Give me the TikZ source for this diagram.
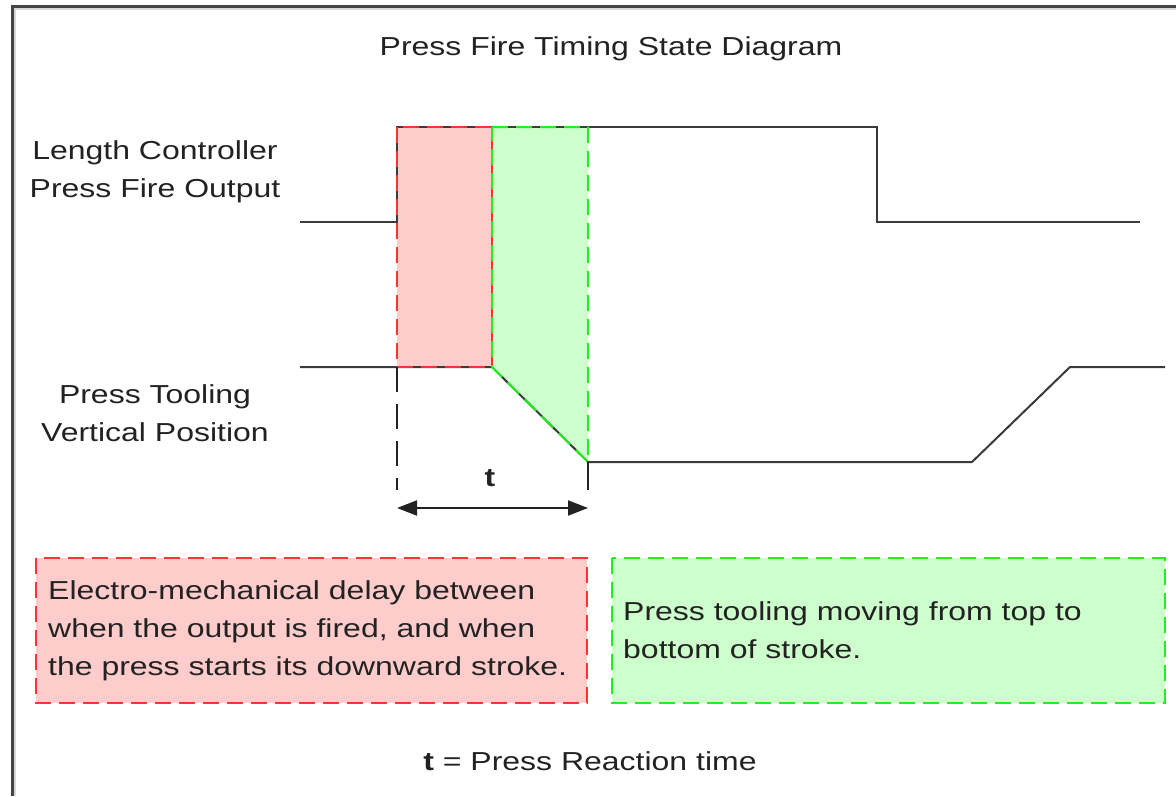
\documentclass[tikz,border=0pt]{standalone}
\usepackage{fontspec}
\setmainfont{Liberation Sans}[FakeStretch=1.23]
\usetikzlibrary{arrows.meta}
\definecolor{ink}{HTML}{222222}
\definecolor{wave}{HTML}{3A3A3A}
\definecolor{delayfill}{HTML}{FFCCCC}
\definecolor{delayline}{HTML}{FF3333}
\definecolor{strokefill}{HTML}{CCFFCC}
\definecolor{strokeline}{HTML}{22EE22}
\definecolor{framedark}{HTML}{444444}
\definecolor{framelight}{HTML}{D8D8D8}
\tikzset{
  txt/.style={font=\fontsize{26}{38}\selectfont, text=ink, inner sep=0pt},
  signal/.style={draw=wave, line width=2pt},
  delayedge/.style={draw=delayline, line width=2pt, dash pattern=on 16pt off 8pt},
  strokeedge/.style={draw=strokeline, line width=2pt, dash pattern=on 16pt off 8pt},
  marker/.style={draw=ink, line width=2pt},
  notebox/.style={txt, align=left, anchor=west},
}
\begin{document}
\begin{tikzpicture}[x=1pt,y=-1pt]
\useasboundingbox (0,0) rectangle (1176,796);
\fill[white] (0,0) rectangle (1176,796);

% outer frame (open towards right and bottom)
\draw[framelight, line width=2pt] (14.5,796) -- (14.5,8.5) -- (1176,8.5);
\draw[framedark, line width=2.4pt] (12.5,796) -- (12.5,6.5) -- (1176,6.5);

% title
\node[txt] (title) at (611,49) {Press Fire Timing State Diagram};

% key points of the timing
\coordinate (fireOn)   at (397,127);
\coordinate (fireLo)   at (397,222);
\coordinate (toolTopA) at (397,367);
\coordinate (moveTop)  at (492,127);
\coordinate (moveA)    at (492,367);
\coordinate (downTop)  at (588,127);
\coordinate (downB)    at (588,462);

% shaded phases
\fill[delayfill] (fireOn) rectangle (moveA);
\fill[strokefill] (moveTop) -- (downTop) -- (downB) -- (moveA) -- cycle;

% row labels
\node[txt, align=center] (lblfire) at (155,172) {Length Controller\\Press Fire Output};
\node[txt, align=center] (lbltool) at (155,413) {Press Tooling\\Vertical Position};

% press fire output waveform
\coordinate (f0) at (300,222);
\coordinate (f3) at (877,127);
\coordinate (f4) at (877,222);
\coordinate (f5) at (1140,222);
\draw[signal] (f0) -- (fireLo) -- (fireOn) -- (f3) -- (f4) -- (f5);

% press tooling position waveform
\coordinate (p0) at (300,367);
\coordinate (p3) at (972,462);
\coordinate (p4) at (1070,367);
\coordinate (p5) at (1165,367);
\draw[signal] (p0) -- (moveA) -- (downB) -- (p3) -- (p4) -- (p5);

% dashed phase outlines
\draw[delayedge] (fireOn) rectangle (moveA);
\draw[strokeedge] (moveTop) -- (downTop) -- (downB) -- (moveA) -- cycle;

% reaction time marker
\coordinate (tA) at (397,490);
\coordinate (tB) at (588,490);
\coordinate (arrA) at (397,508);
\coordinate (arrB) at (588,508);
\draw[marker, dash pattern=on 25pt off 12pt] (toolTopA) -- (tA);
\draw[marker] (downB) -- (tB);
\draw[marker, {Triangle[length=20pt,width=15pt]}-{Triangle[length=20pt,width=15pt]}] (arrA) -- (arrB);
\node[txt, font=\fontsize{26}{38}\selectfont\bfseries] (tlabel) at (490,478) {t};

% explanatory boxes
\draw[delayedge, fill=delayfill] (36,558) rectangle (587,703);
\node[notebox] (delaytext) at (48,631) {Electro-mechanical delay between\\when the output is fired, and when\\the press starts its downward stroke.};
\draw[strokeedge, fill=strokefill] (612,558) rectangle (1165,703);
\node[notebox] (stroketext) at (623,630) {Press tooling moving from top to\\bottom of stroke.};

% legend
\node[txt] (legend) at (590,761) {\textbf{t} = Press Reaction time};
\end{tikzpicture}
\end{document}
